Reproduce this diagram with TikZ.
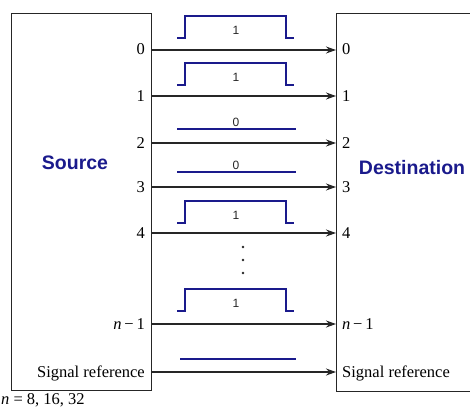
\documentclass[tikz,border=0pt]{standalone}
\usepackage{fontspec}
\setmainfont{Liberation Serif}
\newfontfamily\headfont{Liberation Sans}
\usetikzlibrary{arrows.meta}
\definecolor{c1}{HTML}{262626}
\definecolor{c2}{HTML}{1A1A8C}

\begin{document}
\begin{tikzpicture}[x=1pt, y=-1pt,
    every node/.style={font=\fontsize{16.5}{18}\selectfont, inner sep=0pt},
    box/.style={rectangle, draw=c1, line width=1.4pt, anchor=north west},
    head/.style={font=\headfont\bfseries\fontsize{19.5}{22}\selectfont, text=c2},
    bit/.style={font=\headfont\fontsize{12}{13}\selectfont, text=c1},
    wire/.style={c1, line width=1.1pt, -{Stealth[length=10pt, width=7pt]}},
    pulse/.style={c2, line width=1.7pt},
]
\useasboundingbox (0,0) rectangle (470,409);

% ---------------------------------------------------------------- the two ends
\node[box, minimum width=140pt, minimum height=377pt] (src) at (11,13) {};
\node[box, minimum width=150pt, minimum height=378pt] (dst) at (336,13) {};
\node[head] (srcname) at (75,163) {Source};
\node[head] (dstname) at (412,168) {Destination};

% ---------------------------------------------------------------- the lines
\foreach \y/\i/\t in {50/0/0, 96/1/1, 143/2/2, 187/3/3, 233/4/4,
                      324/5/{\textit{n}\,−\,1}, 372/6/Signal reference}{
    \coordinate (r\i) at (0,\y);
    \node[anchor=base east] (s\i) at (145,{\y+5}) {\t};
    \node[anchor=base west] (d\i) at (342,{\y+5}) {\t};
    \draw[wire] (src.east |- r\i) -- (dst.west |- r\i);
}

% ---------------------------------------------------------------- the bits
% ones
\foreach \l in {38, 85, 223, 311}{
    \draw[pulse] (177,\l) -- ++(8,0) -- ++(0,-22) -- ++(101,0) -- ++(0,22) -- ++(8,0);
    \node[bit] (one\l) at (236,{\l-8}) {1};
}
% zeros
\foreach \l in {129, 172}{
    \draw[pulse] (177,\l) -- (296,\l);
    \node[bit, anchor=south] (zero\l) at (236,{\l-2}) {0};
}
% signal reference
\draw[pulse] (180,359) -- (296,359);

% more lines
\foreach \y in {247, 260, 273}{
    \fill[c1] (243,\y) circle (1.3pt);
}

\node[anchor=base west] (nval) at (1,404.5) {\textit{n} = 8, 16, 32};
\end{tikzpicture}
\end{document}
